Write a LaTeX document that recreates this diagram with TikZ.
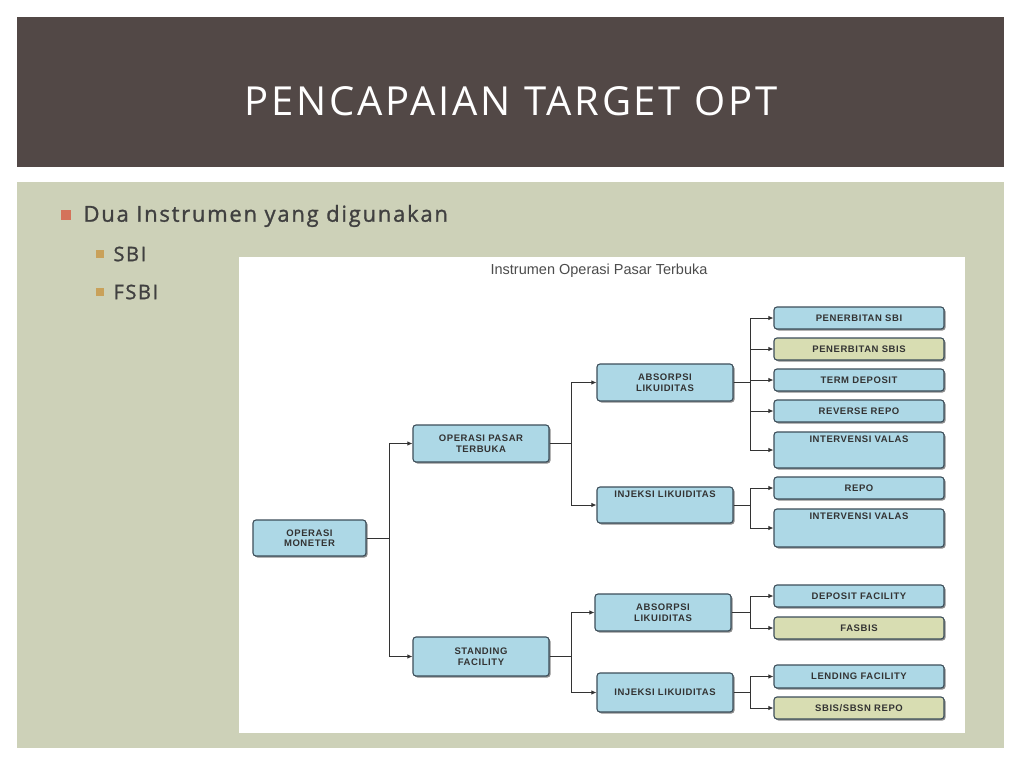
\documentclass[tikz,border=0pt]{standalone}
\usepackage{fontspec}
\setmainfont{Liberation Sans}
\newfontfamily\ttlfont[LetterSpace=7]{Open Sans}
\newfontfamily\bodyfont[LetterSpace=8,FakeBold=1.2]{Open Sans}
\newfontfamily\bxfont[LetterSpace=6]{Liberation Sans}
\usetikzlibrary{arrows.meta,shadows}
\definecolor{band}{HTML}{524846}
\definecolor{content}{HTML}{CDD1B8}
\definecolor{bxblue}{HTML}{ADD8E6}
\definecolor{bxgreen}{HTML}{D8DDB2}
\definecolor{bxline}{HTML}{3C4E5A}
\definecolor{bulA}{HTML}{D4735A}
\definecolor{bulB}{HTML}{C9A15A}
\tikzset{
  bx/.style={draw=bxline, line width=1.1pt, fill=bxblue, rounded corners=3pt, inner sep=0pt,
    font=\bxfont\fontsize{9.5}{10.5}\selectfont\bfseries, text=black!80, align=center,
    drop shadow={shadow xshift=1.5pt, shadow yshift=-1.5pt, fill=black!45, opacity=1}},
  gbx/.style={bx, fill=bxgreen},
  arr/.style={draw=black!80, line width=0.9pt, -{Latex[length=5pt,width=4.5pt]}},
}
\newcommand{\topt}[3]{\parbox[t][#1pt][t]{#2pt}{\centering\vspace{2pt}#3}}
\begin{document}
\begin{tikzpicture}[x=1pt,y=-1pt]
\useasboundingbox (0,0) rectangle (1024,768);
\fill[white] (0,0) rectangle (1024,768);
\fill[band] (17,17) rectangle (1004,167);
\node[text=white, font=\ttlfont\fontsize{40}{44}\selectfont] (title) at (511,101) {PENCAPAIAN TARGET OPT};
\fill[content] (17,182) rectangle (1004,748);
\fill[bulA] (61,210) rectangle (71,220);
\node[anchor=west, text=black!75, font=\bodyfont\fontsize{22}{24}\selectfont] (b1) at (80,216) {Dua Instrumen yang digunakan};
\fill[bulB] (96,250) rectangle (104,258);
\node[anchor=west, text=black!75, font=\bodyfont\fontsize{20}{22}\selectfont] (b2) at (110,254) {SBI};
\fill[bulB] (96,288) rectangle (104,296);
\node[anchor=west, text=black!75, font=\bodyfont\fontsize{20}{22}\selectfont] (b3) at (110,292) {FSBI};
\fill[white] (239,257) rectangle (965,733);
\node[font=\fontsize{14.5}{16}\selectfont, text=black!70] (dt) at (599,271) {Instrumen Operasi Pasar Terbuka};

\node[bx, minimum width=113, minimum height=36] (mon) at (309.5,538) {OPERASI\\MONETER};
\node[bx, minimum width=136, minimum height=37] (opt) at (481,443.5) {OPERASI PASAR\\TERBUKA};
\node[bx, minimum width=136, minimum height=39] (sf) at (481,656.5) {STANDING\\FACILITY};
\node[bx, minimum width=136, minimum height=37] (ab1) at (665,382.5) {ABSORPSI\\LIKUIDITAS};
\node[bx, minimum width=136, minimum height=36] (in1) at (665,505) {\topt{33}{130}{INJEKSI LIKUIDITAS}};
\node[bx, minimum width=136, minimum height=37] (ab2) at (663,612.5) {ABSORPSI\\LIKUIDITAS};
\node[bx, minimum width=136, minimum height=39] (in2) at (665,692.5) {INJEKSI LIKUIDITAS};

\node[bx, minimum width=170, minimum height=22] (r1) at (859,318) {PENERBITAN SBI};
\node[gbx, minimum width=170, minimum height=22] (r2) at (859,349) {PENERBITAN SBIS};
\node[bx, minimum width=170, minimum height=22] (r3) at (859,380) {TERM DEPOSIT};
\node[bx, minimum width=170, minimum height=22] (r4) at (859,411) {REVERSE REPO};
\node[bx, minimum width=170, minimum height=36] (r5) at (859,450) {\topt{33}{165}{INTERVENSI VALAS}};
\node[bx, minimum width=170, minimum height=22] (r6) at (859,488) {REPO};
\node[bx, minimum width=170, minimum height=38] (r7) at (859,528) {\topt{35}{165}{INTERVENSI VALAS}};
\node[bx, minimum width=170, minimum height=22] (r8) at (859,596) {DEPOSIT FACILITY};
\node[gbx, minimum width=170, minimum height=22] (r9) at (859,628) {FASBIS};
\node[bx, minimum width=170, minimum height=23] (r10) at (859,676.5) {LENDING FACILITY};
\node[gbx, minimum width=170, minimum height=22] (r11) at (859,708) {SBIS/SBSN REPO};

\draw[arr] (mon.east) -- ++(23,0) |- (opt.west);
\draw[arr] (mon.east) -- ++(23,0) |- (sf.west);
\draw[arr] (opt.east) -- ++(22,0) |- (ab1.west);
\draw[arr] (opt.east) -- ++(22,0) |- (in1.west);
\draw[arr] (sf.east) -- ++(22,0) |- (ab2.west);
\draw[arr] (sf.east) -- ++(22,0) |- (in2.west);
\foreach \r in {r1,r2,r3,r4,r5} \draw[arr] (ab1.east) -- ++(17,0) |- (\r.west);
\foreach \r in {r6,r7} \draw[arr] (in1.east) -- ++(17,0) |- (\r.west);
\foreach \r in {r8,r9} \draw[arr] (ab2.east) -- ++(19,0) |- (\r.west);
\foreach \r in {r10,r11} \draw[arr] (in2.east) -- ++(17,0) |- (\r.west);
\end{tikzpicture}
\end{document}
